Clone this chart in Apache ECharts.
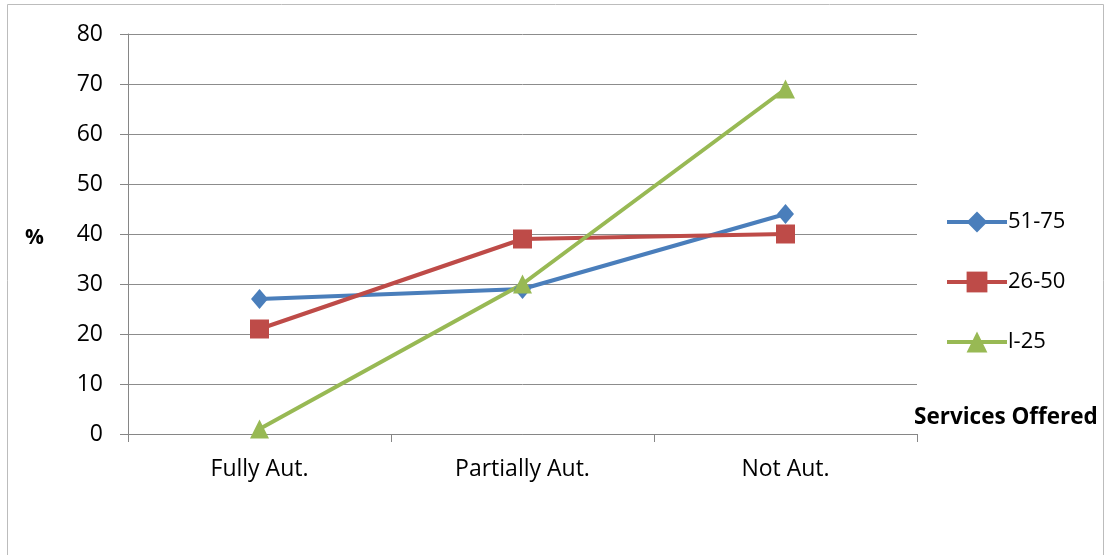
<!DOCTYPE html>
<html>
<head>
<meta charset="utf-8">
<script src="https://cdn.jsdelivr.net/npm/echarts@6/dist/echarts.min.js"></script>
<style>
  html, body { margin: 0; padding: 0; background: #fff; }
  #chart { width: 1107px; height: 555px; }
</style>
</head>
<body>
<div id="chart"></div>
<script>
// Service automation levels by group size (%)
const categories = ['Fully Aut.', 'Partially Aut.', 'Not Aut.'];
const seriesNames = ['51-75', '26-50', 'l-25'];
const values5175 = [27, 29, 44];
const values2650 = [21, 39, 40];
const values125 = [1, 30, 69];

const FONT = '"Open Sans", Lato, sans-serif';
const chart = echarts.init(document.getElementById('chart'));

chart.setOption({
  animation: false,
  backgroundColor: '#fff',
  grid: { left: 128, right: 190, top: 34, bottom: 121 },
  graphic: [
    { type: 'rect', shape: { x: 7.5, y: 4.5, width: 1096, height: 600 },
      style: { fill: 'none', stroke: '#bcbcbc', lineWidth: 1 }, silent: true },
    { type: 'text', left: 25, top: 228,
      style: { text: '%', font: 'bold 21px ' + FONT, fill: '#000' } },
    { type: 'text', left: 914, top: 406,
      style: { text: 'Services Offered', font: 'bold 22.5px ' + FONT, fill: '#000' } }
  ],
  legend: {
    orient: 'vertical', left: 945, top: 211, padding: 0, itemWidth: 60, itemHeight: 26, itemGap: 38,
    lineStyle: { width: 4 },
    textStyle: { fontFamily: FONT, fontSize: 22, color: '#000', padding: [0, 0, 0, -4] },
    data: seriesNames
  },
  xAxis: {
    type: 'category', data: categories, boundaryGap: true,
    axisLine: { lineStyle: { color: '#868686', width: 1 } },
    axisTick: { show: true, interval: 0, length: 8, lineStyle: { color: '#868686' } },
    axisLabel: { fontFamily: FONT, fontSize: 23, color: '#000', margin: 24 }
  },
  yAxis: {
    type: 'value', min: 0, max: 80, interval: 10,
    axisLine: { show: true, lineStyle: { color: '#868686', width: 1 } },
    axisTick: { show: true, length: 8, lineStyle: { color: '#868686' } },
    axisLabel: { fontFamily: FONT, fontSize: 23, color: '#000', margin: 25 },
    splitLine: { lineStyle: { color: '#8c8c8c', width: 1 } }
  },
  series: [
    { name: seriesNames[0], type: 'line', data: values5175, symbol: 'diamond', symbolSize: [17, 20],
      lineStyle: { width: 4, color: '#4A7EBB' }, itemStyle: { color: '#4A7EBB' } },
    { name: seriesNames[1], type: 'line', data: values2650, symbol: 'rect', symbolSize: 19,
      lineStyle: { width: 4, color: '#BE4B48' }, itemStyle: { color: '#BE4B48' } },
    { name: seriesNames[2], type: 'line', data: values125, symbol: 'triangle', symbolSize: 19,
      lineStyle: { width: 4, color: '#98B954' }, itemStyle: { color: '#98B954' } }
  ]
});
</script>
</body>
</html>
